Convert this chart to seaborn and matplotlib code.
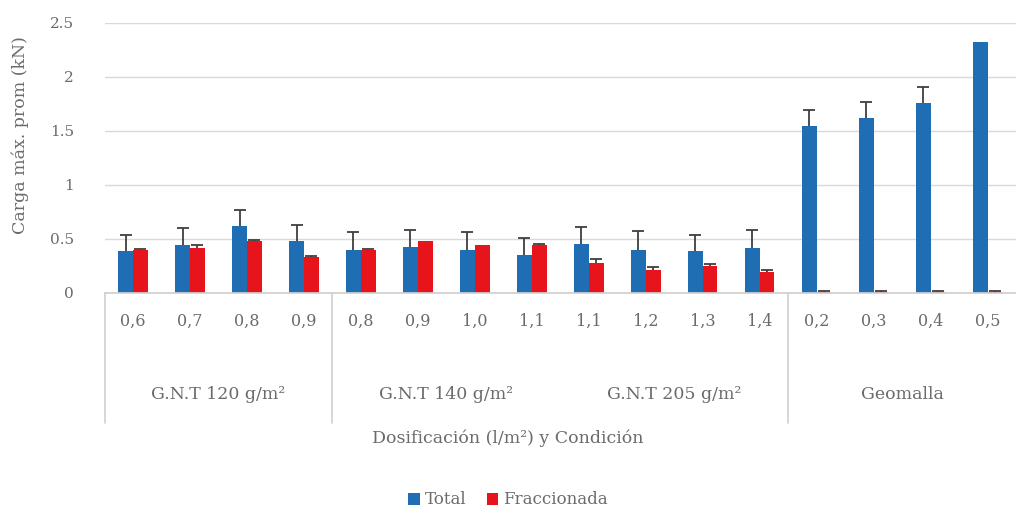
import numpy as np
import pandas as pd
import matplotlib
matplotlib.use("Agg")
import matplotlib.pyplot as plt
import matplotlib.transforms as mtransforms
from matplotlib.patches import Patch
import seaborn as sns

# Datos
dosis = ["0,6", "0,7", "0,8", "0,9",
         "0,8", "0,9", "1,0", "1,1",
         "1,1", "1,2", "1,3", "1,4",
         "0,2", "0,3", "0,4", "0,5"]
grupos = ["G.N.T 120 g/m²", "G.N.T 140 g/m²", "G.N.T 205 g/m²", "Geomalla"]
por_grupo = 4

total = [0.385, 0.44, 0.62, 0.48,
         0.40, 0.43, 0.40, 0.35,
         0.45, 0.40, 0.385, 0.42,
         1.55, 1.62, 1.76, 2.32]
total_err = [0.155, 0.16, 0.15, 0.15,
             0.16, 0.15, 0.16, 0.16,
             0.165, 0.17, 0.155, 0.165,
             0.14, 0.15, 0.15, 0.0]
fraccionada = [0.40, 0.42, 0.48, 0.33,
               0.40, 0.48, 0.44, 0.44,
               0.28, 0.21, 0.25, 0.19,
               0.01, 0.01, 0.01, 0.01]
fraccionada_err = [0.01, 0.02, 0.01, 0.01,
                   0.01, 0.0, 0.0, 0.01,
                   0.03, 0.03, 0.02, 0.02,
                   0.01, 0.01, 0.01, 0.01]

series = ["Total", "Fraccionada"]
colores = {"Total": "#1F6DB3", "Fraccionada": "#E8141B"}
gris = "#6b6b6b"

sns.set_theme(style="white")
plt.rcParams['font.family'] = ['DejaVu Serif']

# id único por categoría (hay dosis repetidas entre grupos)
ids = [f"{i:02d}" for i in range(len(dosis))]
df = pd.DataFrame({
    "id": ids * 2,
    "serie": ["Total"] * len(ids) + ["Fraccionada"] * len(ids),
    "valor": total + fraccionada,
})

fig = plt.figure(figsize=(10.16, 5.14), dpi=100)
ax = fig.add_axes([0.1029, 0.4300, 0.8971, 0.5253])

sns.barplot(data=df, x="id", y="valor", hue="serie", order=ids, hue_order=series,
            palette=colores, width=0.52, errorbar=None, legend=False, ax=ax,
            saturation=1, linewidth=0)

# barras de error (solo hacia arriba, con tapa solo arriba)
for cont, err in zip(ax.containers, [total_err, fraccionada_err]):
    xs = np.array([b.get_x() + b.get_width() / 2 for b in cont])
    hs = np.array([b.get_height() for b in cont])
    err = np.array(err)
    m = err > 0
    ax.vlines(xs[m], hs[m], hs[m] + err[m], color="#3f3f3f", linewidth=1.3, zorder=3)
    ax.plot(xs[m], hs[m] + err[m], linestyle="none", marker="_", markersize=9,
            markeredgewidth=1.3, color="#3f3f3f", zorder=3)

ax.set_ylim(0, 2.5)
ax.set_xlim(-0.5, len(dosis) - 0.5)
ax.set_yticks(np.arange(0, 2.51, 0.5))
ax.set_yticklabels(["0", "0.5", "1", "1.5", "2", "2.5"])
ax.yaxis.grid(True, color="#d9d9d9", linewidth=1)
ax.set_axisbelow(True)
for s in ["left", "right", "top"]:
    ax.spines[s].set_visible(False)
ax.spines["bottom"].set_color("#d0d0d0")
ax.tick_params(axis="y", length=0, pad=22, labelsize=11, labelcolor=gris)

ax.set_xticks(range(len(dosis)))
ax.set_xticklabels(dosis)
ax.tick_params(axis="x", length=0, pad=14, labelsize=11.5, labelcolor=gris)
ax.set_xlabel("")
ax.set_ylabel("")

# separadores y etiquetas de grupo
trans = mtransforms.blended_transform_factory(ax.transData, ax.transAxes)
for xsep in [-0.5, 3.5, 11.5]:
    ax.plot([xsep, xsep], [0, -0.48], transform=trans, color="#d0d0d0",
            linewidth=1.2, clip_on=False)
for k, g in enumerate(grupos):
    xc = k * por_grupo + (por_grupo - 1) / 2
    ax.text(xc, -0.375, g, transform=trans, ha="center", va="center",
            fontsize=12.5, color=gris)

fig.text(0.5, 1 - 438 / 514, "Dosificación (l/m²) y Condición", ha="center", va="center",
         fontsize=12.5, color=gris)
fig.text(20 / 1016, 1 - 135 / 514, "Carga máx. prom (kN)", rotation=90, ha="center",
         va="center", fontsize=12.5, color=gris)

handles = [Patch(facecolor=colores[s], edgecolor="none") for s in series]
fig.legend(handles, series, loc="center", bbox_to_anchor=(0.5, 1 - 500 / 514), ncol=2,
           frameon=False, fontsize=12, labelcolor=gris, handlelength=0.7,
           handleheight=0.7, handletextpad=0.3, columnspacing=1.2)

fig.savefig("out.png", dpi=100)
